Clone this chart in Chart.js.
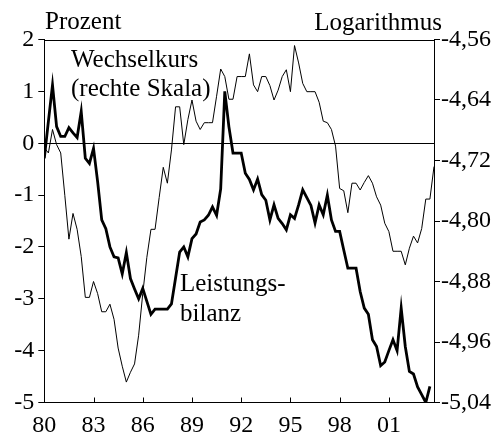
<!DOCTYPE html>
<html>
<head>
<meta charset="utf-8">
<script src="https://cdn.jsdelivr.net/npm/chart.js@4/dist/chart.umd.min.js"></script>
<style>
  html, body { margin: 0; padding: 0; background: #fff; }
  #wrap { width: 504px; height: 441px; }
</style>
</head>
<body>
<div id="wrap"><canvas id="chart" width="504" height="441"></canvas></div>
<script>
// quarterly data, first quarter 1980
const startYear = 80;
const xTicks = [80, 83, 86, 89, 92, 95, 98, 101];
const leftTicks = [2, 1, 0, -1, -2, -3, -4, -5];
const rightTicks = [-4.56, -4.64, -4.72, -4.80, -4.88, -4.96, -5.04];

// Leistungsbilanz, Prozent (linke Skala)
const currentAccount = [
  -0.29, 0.42, 1.12, 0.32, 0.13, 0.13, 0.30, 0.20, 0.11, 0.61,
  -0.29, -0.39, -0.10, -0.74, -1.48, -1.65, -2.00, -2.19, -2.21, -2.52,
  -2.11, -2.61, -2.81, -3.00, -2.80, -3.05, -3.30, -3.20, -3.20, -3.20,
  -3.20, -3.10, -2.60, -2.10, -2.00, -2.19, -1.84, -1.75, -1.52, -1.48,
  -1.39, -1.23, -1.39, -0.88, 1.00, 0.32, -0.19, -0.19, -0.19, -0.58,
  -0.70, -0.90, -0.69, -0.99, -1.10, -1.48, -1.19, -1.45, -1.55, -1.67,
  -1.38, -1.45, -1.19, -0.90, -1.05, -1.20, -1.54, -1.19, -1.38, -1.00,
  -1.48, -1.70, -1.70, -2.06, -2.41, -2.41, -2.41, -2.86, -3.18, -3.30,
  -3.79, -3.92, -4.29, -4.22, -4.00, -3.79, -4.00, -3.18, -3.92, -4.40,
  -4.45, -4.70, -4.85, -5.00, -4.69,
];

// Wechselkurs, Logarithmus (rechte Skala)
const exchangeRate = [
  -4.703, -4.710, -4.679, -4.699, -4.710, -4.766, -4.824, -4.790, -4.811, -4.847,
  -4.901, -4.901, -4.880, -4.896, -4.920, -4.920, -4.910, -4.930, -4.968, -4.992,
  -5.013, -5.000, -4.989, -4.951, -4.896, -4.848, -4.811, -4.811, -4.769, -4.729,
  -4.750, -4.706, -4.649, -4.649, -4.699, -4.666, -4.640, -4.668, -4.679, -4.670,
  -4.670, -4.670, -4.635, -4.599, -4.609, -4.639, -4.639, -4.609, -4.609, -4.609,
  -4.579, -4.620, -4.629, -4.609, -4.609, -4.621, -4.640, -4.627, -4.609, -4.600,
  -4.629, -4.568, -4.591, -4.618, -4.629, -4.629, -4.629, -4.643, -4.668, -4.670,
  -4.679, -4.701, -4.757, -4.760, -4.789, -4.750, -4.750, -4.759, -4.749, -4.740,
  -4.750, -4.768, -4.779, -4.803, -4.814, -4.840, -4.840, -4.840, -4.858, -4.836,
  -4.820, -4.829, -4.810, -4.771, -4.771, -4.728,
];

const serif = "'Liberation Serif', 'Times New Roman', serif";
const toPoints = (values) => values.map((v, i) => ({ x: startYear + i / 4, y: v }));

const textPlugin = {
  id: "texts",
  afterDraw(chart) {
    const { ctx, chartArea, scales } = chart;
    ctx.save();
    ctx.strokeStyle = "#000";
    ctx.lineWidth = 1;
    // top frame line
    ctx.beginPath();
    ctx.moveTo(chartArea.left, Math.round(chartArea.top) + 0.5);
    ctx.lineTo(chartArea.right, Math.round(chartArea.top) + 0.5);
    ctx.stroke();
    // x ticks pointing inward
    scales.x.ticks.forEach((t) => {
      const px = Math.round(scales.x.getPixelForValue(t.value)) + 0.5;
      ctx.beginPath();
      ctx.moveTo(px, chartArea.bottom);
      ctx.lineTo(px, chartArea.bottom - 5);
      ctx.stroke();
    });
    ctx.fillStyle = "#000";
    ctx.font = `25px ${serif}`;
    ctx.textBaseline = "alphabetic";
    ctx.textAlign = "left";
    ctx.fillText("Prozent", 45, 29);
    ctx.fillText("Wechselkurs", 71, 67);
    ctx.fillText("(rechte Skala)", 71, 96);
    ctx.fillText("Leistungs-", 180, 291);
    ctx.fillText("bilanz", 180, 321);
    ctx.textAlign = "right";
    ctx.fillText("Logarithmus", 442, 30);
    ctx.restore();
  },
};

new Chart(document.getElementById("chart"), {
  type: "line",
  data: {
    datasets: [
      {
        label: "Leistungsbilanz",
        data: toPoints(currentAccount),
        yAxisID: "y",
        borderColor: "#000",
        borderWidth: 2.8,
        pointRadius: 0,
        tension: 0,
      },
      {
        label: "Wechselkurs",
        data: toPoints(exchangeRate),
        yAxisID: "y2",
        borderColor: "#000",
        borderWidth: 1,
        pointRadius: 0,
        tension: 0,
      },
    ],
  },
  options: {
    responsive: false,
    animation: false,
    devicePixelRatio: 1,
    layout: { padding: { top: 39.5, left: 0, right: 0, bottom: 0 } },
    plugins: { legend: { display: false }, tooltip: { enabled: false } },
    scales: {
      x: {
        type: "linear",
        min: 80,
        max: 103.75,
        afterFit: (s) => { s.height = 38.5; },
        afterBuildTicks: (s) => { s.ticks = xTicks.map((v) => ({ value: v })); },
        ticks: {
          color: "#000",
          font: { family: serif, size: 24 },
          padding: 9,
          maxRotation: 0,
          autoSkip: false,
          callback: (v) => String(v % 100).padStart(2, "0"),
        },
        grid: { display: true, drawOnChartArea: false, drawTicks: false },
        border: { color: "#000", width: 1 },
      },
      y: {
        position: "left",
        min: -5,
        max: 2,
        afterFit: (s) => { s.width = 44.3; },
        afterBuildTicks: (s) => { s.ticks = leftTicks.map((v) => ({ value: v })); },
        ticks: {
          color: "#000",
          font: { family: serif, size: 24 },
          padding: 4,
          callback: (v) => String(v),
        },
        grid: {
          drawOnChartArea: true,
          color: (c) => (c.tick && c.tick.value === 0 ? "#000" : "rgba(0,0,0,0)"),
          tickColor: "#000",
          tickLength: 6,
          lineWidth: 1,
        },
        border: { color: "#000", width: 1 },
      },
      y2: {
        position: "right",
        min: -5.04,
        max: -4.56,
        afterFit: (s) => { s.width = 70; },
        afterBuildTicks: (s) => { s.ticks = rightTicks.map((v) => ({ value: v })); },
        ticks: {
          color: "#000",
          font: { family: serif, size: 24 },
          padding: 1,
          callback: (v) => v.toFixed(2).replace(".", ","),
        },
        grid: { drawOnChartArea: false, tickColor: "#000", tickLength: 6 },
        border: { color: "#000", width: 1 },
      },
    },
  },
  plugins: [textPlugin],
});
</script>
</body>
</html>
